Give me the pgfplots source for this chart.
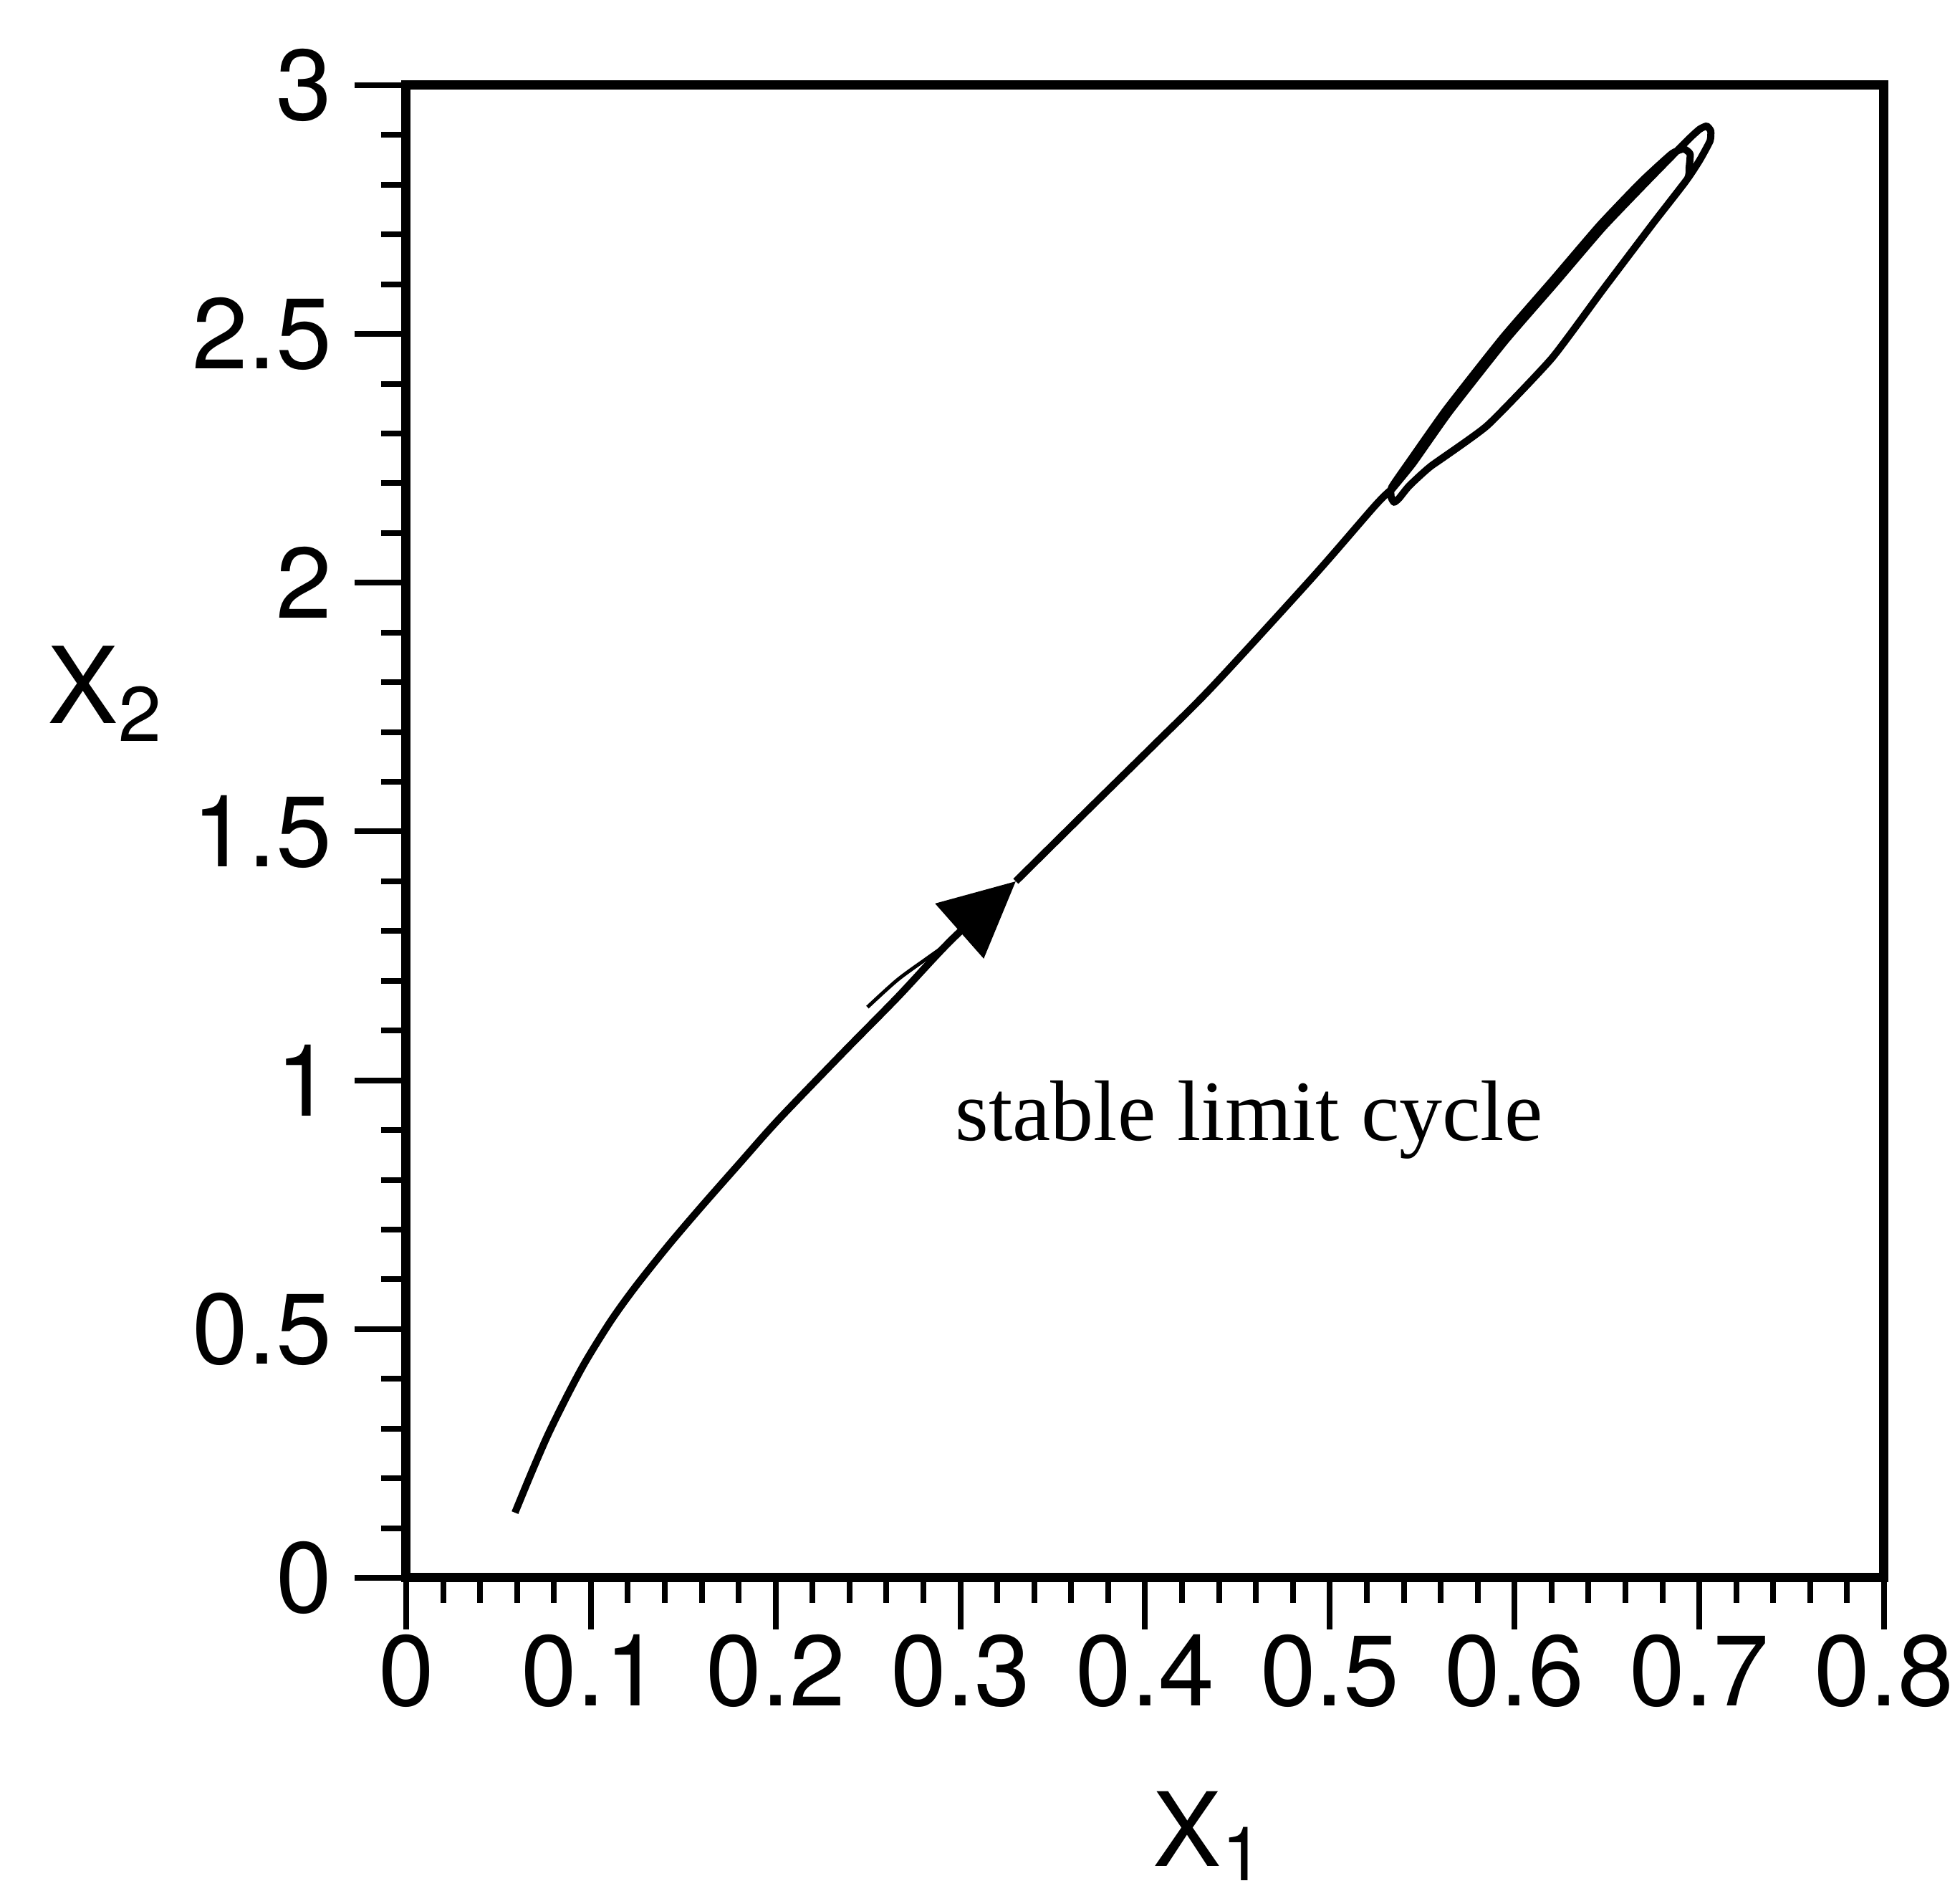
\documentclass[border=0pt]{standalone}
\usepackage{fontspec}
\setmainfont{TeX Gyre Heros}
\newfontfamily\timesfont{Liberation Serif}
\usepackage{pgfplots}
\pgfplotsset{compat=1.18}
\usetikzlibrary{arrows.meta}

\begin{document}
\begin{tikzpicture}
\begin{axis}[
  scale only axis, width=206.3pt, height=208.3pt,
  xmin=0, xmax=0.8, ymin=0, ymax=3,
  xtick={0,0.1,0.2,0.3,0.4,0.5,0.6,0.7,0.8},
  ytick={0,0.5,1,1.5,2,2.5,3},
  minor x tick num=4, minor y tick num=4,
  xtick pos=bottom, ytick pos=left,
  tick align=outside,
  major tick length=7.2pt, minor tick length=3.5pt,
  axis line style={line width=1.3pt},
  tick style={black, line width=0.8pt},
  tick label style={font=\fontsize{14}{16}\selectfont},
  /pgf/number format/assume math mode=true,
  xticklabel style={inner sep=0.5pt},
  yticklabel style={inner sep=3pt},
  xlabel={X\raisebox{-2pt}{\fontsize{10.5}{12}\selectfont 1}},
  xlabel style={font=\fontsize{14.3}{16}\selectfont, at={(axis description cs:0.5046,0)}, anchor=base west, yshift=-40.3pt, inner sep=0pt},
  ylabel={X\raisebox{-2.5pt}{\fontsize{10.8}{12}\selectfont 2}},
  ylabel style={rotate=-90, font=\fontsize{14.8}{16}\selectfont, at={(axis description cs:0,0.5723)}, anchor=base west, xshift=-50.2pt, inner sep=0pt},
]
\coordinate (LL) at (rel axis cs:0,0);
\coordinate (UR) at (rel axis cs:1,1);

% approach trajectory up to the arrow
\addplot[black, line width=1pt, smooth, tension=0.5, -{Triangle[length=10.5pt, width=10pt]}] coordinates {
(0.0589,0.131) (0.0679,0.212) (0.0768,0.288) (0.0873,0.367) (0.0973,0.436)
(0.1109,0.517) (0.1241,0.585) (0.1419,0.668) (0.1598,0.746) (0.1807,0.834)
(0.2013,0.920) (0.2366,1.056) (0.2660,1.167) (0.2959,1.285) (0.3300,1.400)
};

% continuation into the limit cycle
\addplot[black, line width=1pt, smooth, tension=0.5] coordinates {
(0.3300,1.400) (0.3700,1.547) (0.4056,1.677) (0.4366,1.792)
(0.4909,2.012) (0.5247,2.156) (0.5336,2.188)
};
\addplot[black, line width=1pt, smooth, tension=0.3, line join=round] coordinates {
(0.5336,2.188)
(0.5450,2.240) (0.5646,2.343) (0.5949,2.486) (0.6220,2.602) (0.6476,2.713)
(0.6700,2.800) (0.6879,2.868) (0.6960,2.898) (0.7003,2.912) (0.7040,2.918)
(0.7062,2.908) (0.7058,2.888) (0.7003,2.850) (0.6934,2.811) (0.6755,2.725)
(0.6476,2.588) (0.6201,2.451) (0.5852,2.316) (0.5549,2.235) (0.5430,2.195)
(0.5375,2.170) (0.5348,2.162) (0.5332,2.172) (0.5335,2.192)
(0.5435,2.246) (0.5631,2.349) (0.5934,2.492) (0.6205,2.608) (0.6461,2.719)
(0.6685,2.806) (0.6850,2.862) (0.6915,2.872) (0.6950,2.862) (0.6945,2.835)
(0.6934,2.811) (0.6755,2.725) (0.6476,2.588) (0.6201,2.451) (0.5852,2.316)
(0.5549,2.235)
};

% second, thin trajectory merging near the arrow
\addplot[black, line width=0.5pt, smooth] coordinates {
(0.2497,1.147) (0.2660,1.202) (0.2823,1.246) (0.2898,1.266) (0.2959,1.285)
};

\node[anchor=base west, inner sep=0pt, font=\timesfont\fontsize{12}{14}\selectfont]
  at (axis cs:0.2965,0.879) {stable limit cycle};
\end{axis}
\pgfresetboundingbox
\path ([shift={(-56.7pt,-44.4pt)}]LL) rectangle ([shift={(10.6pt,11.9pt)}]UR);
\end{tikzpicture}
\end{document}
